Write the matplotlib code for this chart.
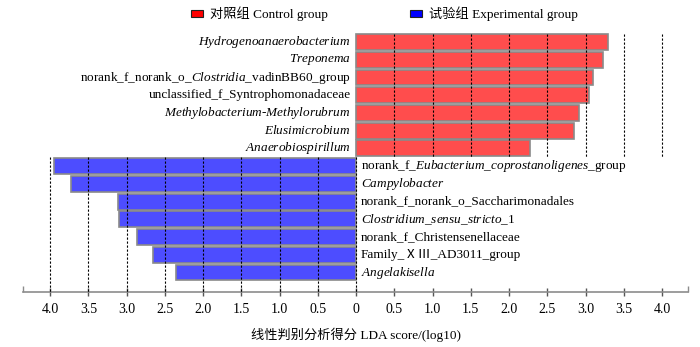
import matplotlib
matplotlib.use("Agg")
import matplotlib.pyplot as plt
from matplotlib.patches import Patch
import numpy as np

plt.rcParams['font.family'] = ['Liberation Serif', 'Noto Sans CJK SC', 'DejaVu Sans']
plt.rcParams['mathtext.fontset'] = 'custom'
plt.rcParams['mathtext.rm'] = 'Liberation Serif'
plt.rcParams['mathtext.it'] = 'Liberation Serif:italic'

# ---- data ----
control_names = [
    r'$\mathit{Hydrogenoanaerobacterium}$',
    r'$\mathit{Treponema}$',
    r'norank_f_norank_o_$\mathit{Clostridia}$_vadinBB60_group',
    'unclassified_f_Syntrophomonadaceae',
    r'$\mathit{Methylobacterium}$-$\mathit{Methylorubrum}$',
    r'$\mathit{Elusimicrobium}$',
    r'$\mathit{Anaerobiospirillum}$',
]
control_lda = [3.30, 3.23, 3.10, 3.04, 2.91, 2.85, 2.27]

exp_names = [
    r'norank_f_$\mathit{Eubacterium\_coprostanoligenes}$_group',
    r'$\mathit{Campylobacter}$',
    'norank_f_norank_o_Saccharimonadales',
    r'$\mathit{Clostridium\_sensu\_stricto}$_1',
    'norank_f_Christensenellaceae',
    'Family_ⅩⅢ_AD3011_group',
    r'$\mathit{Angelakisella}$',
]
exp_lda = [3.95, 3.73, 3.11, 3.10, 2.86, 2.66, 2.36]

tick_vals = [-4, -3.5, -3, -2.5, -2, -1.5, -1, -0.5, 0, 0.5, 1, 1.5, 2, 2.5, 3, 3.5, 4]
tick_labels = ['4.0', '3.5', '3.0', '2.5', '2.0', '1.5', '1.0', '0.5', '0',
               '0.5', '1.0', '1.5', '2.0', '2.5', '3.0', '3.5', '4.0']

legend_labels = ['对照组 Control group', '试验组 Experimental group']
xlabel = '线性判别分析得分 LDA score/(log10)'

red_bar = '#FF4D4D'
blue_bar = '#4D4DFF'

fig = plt.figure(figsize=(7.0, 3.47), dpi=100)
W, H = 700, 347
ax_l, ax_r = 23.3, 688
ax_t, ax_b = 30, 292
ax = fig.add_axes([ax_l / W, 1 - ax_b / H, (ax_r - ax_l) / W, (ax_b - ax_t) / H])

n_c = len(control_lda)
n_e = len(exp_lda)
yc = np.arange(n_c)
ye = np.arange(n_c, n_c + n_e)

ax.barh(yc, control_lda, height=0.9, color=red_bar, edgecolor='#8a8a8a', linewidth=1.2, zorder=2)
ax.barh(ye, [-v for v in exp_lda], height=0.9, color=blue_bar, edgecolor='#8a8a8a', linewidth=1.2, zorder=2)

fs = 9.5
for y, name in zip(yc, control_names):
    ax.text(-0.07, y, name, ha='right', va='center', fontsize=fs, zorder=4)
for y, name in zip(ye, exp_names):
    ax.text(0.06, y, name, ha='left', va='center', fontsize=fs, zorder=4)

ylim_bottom, ylim_top = 14.1, -0.68
ax.set_ylim(ylim_bottom, ylim_top)
ax.set_xlim(-4.35, 4.34)

split = n_c - 0.5
for v in tick_vals:
    if v > 0:
        ax.plot([v, v], [-0.45, split], color='black', lw=0.8, ls=(0, (2, 1.6)), zorder=3)
    else:
        ax.plot([v, v], [split, ylim_bottom], color='black', lw=0.8, ls=(0, (2, 1.6)), zorder=3)

for s in ['left', 'right', 'top']:
    ax.spines[s].set_visible(False)
ax.spines['bottom'].set_color('#8c8c8c')
ax.spines['bottom'].set_linewidth(1.2)
ax.set_yticks([])
ax.set_xticks(tick_vals)
ax.set_xticklabels(tick_labels, fontsize=10)
ax.tick_params(axis='x', direction='inout', length=6, width=1, color='#555555', pad=5)
ax.set_xticks([-4.35, 4.34], minor=True)
ax.tick_params(axis='x', which='minor', direction='in', length=4, width=1, color='#8c8c8c')
ax.set_xlabel(xlabel, fontsize=fs, labelpad=8)

handles = [Patch(facecolor='#FF0000', edgecolor='#222222', linewidth=0.8),
           Patch(facecolor='#0000FF', edgecolor='#222222', linewidth=0.8)]
fig.legend(handles, legend_labels, loc='center', bbox_to_anchor=(0.549, 1 - 14 / H),
           ncol=2, frameon=False, fontsize=fs, handlelength=0.9, handleheight=0.45,
           handletextpad=0.55, columnspacing=6.2)

fig.savefig('out.png', dpi=100)
